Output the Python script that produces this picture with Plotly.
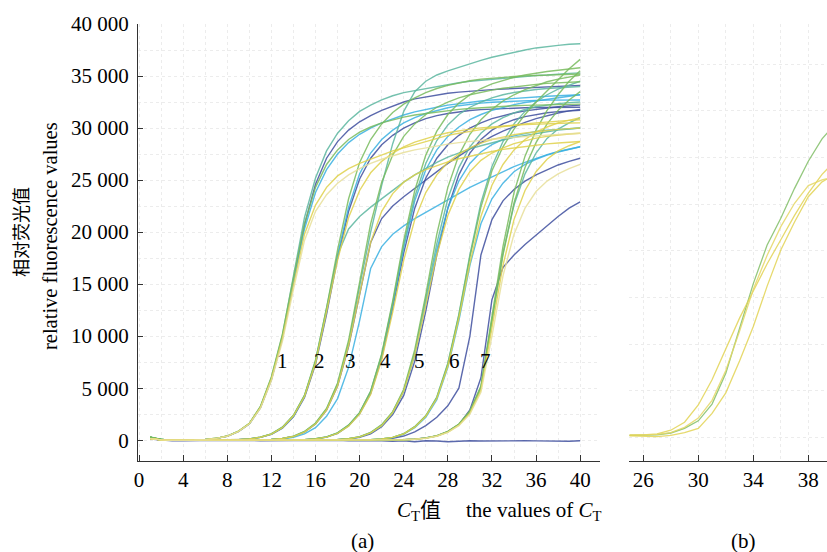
import plotly.graph_objects as go

# ---------------- data ----------------
CYCLES = list(range(1, 41))
B_CYCLES = list(range(25, 41))

XA_TICKS = [0, 4, 8, 12, 16, 20, 24, 28, 32, 36, 40]
XA_TEXT = ["0", "4", "8", "12", "16", "20", "24", "28", "32", "36", "40"]
XB_TICKS = [26, 30, 34, 38]
XB_TEXT = ["26", "30", "34", "38"]
YA_TICKS = [0, 5000, 10000, 15000, 20000, 25000, 30000, 35000, 40000]
YA_TEXT = ["0", "5 000", "10 000", "15 000", "20 000", "25 000", "30 000", "35 000", "40 000"]

GROUP_LABELS = ["1", "2", "3", "4", "5", "6", "7"]
GROUP_LABEL_X = [12.96, 16.4, 19.2, 22.35, 25.4, 28.6, 31.4]
GROUP_LABEL_Y = [7600, 7600, 7600, 7600, 7600, 7600, 7600]

# dilution 1
g1_teal = [320, 80, 0, 0, 30, 80, 180, 400, 850, 1600,
           3200, 6000, 10100, 15800, 21400, 25200, 27800, 29500, 30700, 31600,
           32200, 32700, 33100, 33400, 33600, 33800, 34000, 34200, 34350, 34500,
           34600, 34700, 34800, 34900, 35000, 35050, 35100, 35200, 35250, 35300]
g1_dblue = [200, 40, 0, 0, 20, 70, 170, 380, 830, 1550,
            3100, 5800, 9800, 15300, 20700, 24600, 27100, 28700, 29800, 30600,
            31200, 31700, 32100, 32500, 32800, 33000, 33200, 33350, 33450, 33550,
            33620, 33690, 33750, 33810, 33870, 33920, 33970, 34020, 34060, 34100]
g1_cyan = [250, 60, 0, 0, 25, 75, 175, 390, 840, 1580,
           3150, 5900, 9900, 15200, 20300, 23800, 26000, 27500, 28600, 29400,
           30000, 30500, 30900, 31250, 31550, 31800, 32000, 32200, 32350, 32500,
           32600, 32700, 32780, 32860, 32930, 33000, 33050, 33100, 33150, 33200]
g1_green = [300, 70, 0, 0, 30, 80, 180, 400, 860, 1620,
            3250, 6100, 10200, 15600, 20800, 24300, 26500, 27900, 28900, 29600,
            30100, 30500, 30800, 31050, 31250, 31400, 31550, 31680, 31790, 31880,
            31960, 32030, 32090, 32140, 32180, 32210, 32240, 32260, 32280, 32300]
g1_yellow = [150, 30, 0, 0, 30, 80, 180, 400, 850, 1600,
             3150, 5900, 9800, 14900, 19800, 22600, 24300, 25400, 26100, 26600,
             27000, 27400, 27800, 28100, 28400, 28700, 29000, 29300, 29500, 29700,
             29850, 30000, 30150, 30280, 30400, 30500, 30600, 30680, 30740, 30800]
g1_pale = [150, 30, 0, 0, 25, 75, 170, 380, 820, 1550,
           3050, 5700, 9500, 14500, 19200, 22000, 23600, 24700, 25500, 26100,
           26600, 27000, 27350, 27650, 27900, 28100, 28300, 28450, 28600, 28720,
           28830, 28930, 29020, 29100, 29180, 29250, 29320, 29390, 29450, 29500]

# dilution 2
g2_green = [300, 60, 0, 0, 0, 10, 20, 30, 50, 130,
            290, 600, 1250, 2400, 4300, 7700, 12700, 18300, 23200, 26700,
            28900, 30400, 31500, 32300, 32900, 33400, 33800, 34100, 34350, 34550,
            34700, 34800, 34880, 34950, 35010, 35060, 35100, 35140, 35170, 35200]
g2_cyan = [200, 40, 0, 0, 0, 10, 20, 30, 50, 120,
           280, 580, 1200, 2300, 4200, 7500, 12400, 17800, 22400, 25600,
           27600, 28900, 29800, 30500, 31000, 31400, 31700, 31950, 32150, 32300,
           32400, 32480, 32540, 32590, 32630, 32660, 32680, 32690, 32700, 32700]
g2_teal = [250, 50, 0, 0, 0, 10, 20, 30, 50, 130,
           290, 600, 1250, 2400, 4300, 7600, 12600, 17800, 20300, 21500,
           22400, 23200, 24000, 24800, 25500, 26100, 26700, 27200, 27600, 28000,
           28300, 28600, 28850, 29100, 29300, 29500, 29650, 29800, 29900, 30000]
g2_yellow = [150, 30, 0, 0, 0, 10, 20, 30, 50, 120,
             280, 580, 1200, 2350, 4200, 7400, 12200, 17300, 21400, 24000,
             25700, 26800, 27600, 28200, 28650, 29000, 29300, 29550, 29750, 29900,
             30020, 30120, 30200, 30270, 30330, 30380, 30420, 30450, 30480, 30500]
g2_dblue = [200, 40, 0, 0, 0, 10, 20, 30, 50, 120,
            270, 560, 1150, 2250, 4100, 7300, 12100, 17500, 22000, 25100,
            27100, 28400, 29300, 30000, 30500, 30900, 31200, 31400, 31550, 31680,
            31770, 31830, 31880, 31920, 31950, 31970, 31985, 31995, 32000, 32000]

# dilution 3
g3_teal = [280, 60, 0, 0, 0, 0, 0, 10, 20, 30,
           40, 75, 170, 370, 820, 1600, 3000, 5400, 9300, 14800,
           20000, 24500, 28500, 31600, 33500, 34500, 35100, 35500, 35850, 36200,
           36500, 36800, 37050, 37300, 37500, 37700, 37850, 37950, 38050, 38100]
g3_cyan = [200, 40, 0, 0, 0, 0, 0, 10, 20, 30,
           40, 60, 120, 270, 600, 1200, 2300, 4000, 7000, 11500,
           16500, 18600, 19800, 20600, 21300, 21900, 22500, 23100, 23700, 24300,
           24800, 25300, 25800, 26300, 26700, 27100, 27450, 27750, 28000, 28200]
g3_dblue = [150, 30, 0, 0, 0, 0, 0, 10, 20, 30,
            40, 70, 160, 350, 780, 1550, 2900, 5200, 9000, 14000,
            19000, 21300, 22500, 23400, 24200, 25000, 25800, 26600, 27300, 28000,
            28600, 29200, 29700, 30150, 30550, 30900, 31200, 31450, 31650, 31800]
g3_green = [300, 60, 0, 0, 0, 0, 0, 10, 20, 30,
            40, 80, 175, 380, 840, 1650, 3050, 5500, 9600, 15200,
            20800, 24800, 27400, 29200, 30400, 31300, 32000, 32500, 32900, 33200,
            33450, 33650, 33820, 33970, 34100, 34200, 34290, 34360, 34410, 34450]
g3_yellow = [150, 30, 0, 0, 0, 0, 0, 10, 20, 30,
             40, 70, 160, 350, 780, 1550, 2900, 5200, 9100, 14200,
             19000, 22000, 23700, 24800, 25500, 26000, 26400, 26750, 27050, 27300,
             27550, 27750, 27950, 28100, 28250, 28380, 28480, 28570, 28640, 28700]

# dilution 4
g4_green = [250, 50, 0, 0, 0, 0, 0, 0, 10, 10,
            20, 20, 30, 40, 55, 140, 320, 700, 1450, 2650,
            4700, 8300, 13400, 19200, 24000, 27400, 29700, 31300, 32400, 33200,
            33800, 34250, 34600, 34880, 35100, 35280, 35430, 35560, 35690, 35800]
g4_cyan = [200, 40, 0, 0, 0, 0, 0, 0, 10, 10,
           20, 20, 30, 40, 50, 130, 300, 680, 1400, 2600,
           4600, 8100, 13000, 18500, 23000, 26000, 27900, 29200, 30100, 30800,
           31300, 31700, 32000, 32250, 32450, 32620, 32780, 32920, 33060, 33200]
g4_dblue = [150, 30, 0, 0, 0, 0, 0, 0, 10, 10,
            20, 20, 30, 40, 50, 130, 300, 660, 1380, 2550,
            4500, 7900, 12700, 18000, 22300, 25200, 27100, 28400, 29300, 30000,
            30500, 30900, 31200, 31450, 31650, 31800, 31930, 32040, 32130, 32200]
g4_teal = [220, 50, 0, 0, 0, 0, 0, 0, 10, 10,
           20, 20, 30, 40, 55, 140, 320, 700, 1450, 2650,
           4700, 8200, 13200, 18800, 23400, 26600, 28800, 30300, 31300, 32000,
           32500, 32900, 33200, 33420, 33580, 33700, 33800, 33880, 33950, 34000]
g4_yellow = [150, 30, 0, 0, 0, 0, 0, 0, 10, 10,
             20, 20, 30, 40, 50, 130, 300, 650, 1350, 2500,
             4400, 7700, 12300, 17300, 21200, 23800, 25500, 26700, 27500, 28100,
             28550, 28900, 29150, 29350, 29520, 29660, 29780, 29870, 29940, 30000]

# dilution 5
g5_green = [300, 60, 0, 0, 0, 0, 0, 0, 0, 0,
            0, 0, 10, 10, 20, 20, 30, 60, 150, 340,
            740, 1500, 2750, 4900, 8700, 14000, 19800, 24300, 27400, 29400,
            30800, 31800, 32600, 33200, 33700, 34100, 34450, 34700, 34920, 35100]
g5_teal = [250, 50, 0, 0, 0, 0, 0, 0, 0, 0,
           0, 0, 10, 10, 20, 20, 30, 55, 140, 320,
           720, 1450, 2700, 4800, 8400, 13500, 18900, 23200, 26200, 28200,
           29500, 30400, 31000, 31450, 31800, 32050, 32230, 32350, 32440, 32500]
g5_cyan = [200, 40, 0, 0, 0, 0, 0, 0, 0, 0,
           0, 0, 10, 10, 20, 20, 30, 55, 140, 320,
           700, 1400, 2650, 4700, 8200, 13200, 18300, 22300, 24900, 26600,
           27700, 28400, 28900, 29250, 29500, 29680, 29800, 29890, 29950, 30000]
g5_dblue = [150, 30, 0, 0, 0, 0, 0, 0, 0, 0,
            0, 0, 10, 10, 20, 20, 30, 50, 120, 280,
            620, 1300, 2450, 4300, 7600, 12400, 17800, 22300, 25500, 27600,
            28900, 29800, 30400, 30800, 31100, 31320, 31470, 31580, 31650, 31700]
g5_yellow = [150, 30, 0, 0, 0, 0, 0, 0, 0, 0,
             0, 0, 10, 10, 20, 20, 30, 55, 140, 320,
             700, 1400, 2650, 4700, 8200, 13000, 17800, 21600, 24100, 25800,
             26900, 27600, 28100, 28500, 28800, 29030, 29200, 29330, 29430, 29500]

# dilution 6
g6_green = [250, 50, 0, 0, 0, 0, 0, 0, 0, 0,
            0, 0, 0, 0, 0, 10, 10, 20, 20, 30,
            45, 120, 270, 620, 1300, 2350, 4100, 7300, 12000, 17600,
            22400, 25900, 28200, 29900, 31300, 32500, 33600, 34700, 35700, 36600]
g6_dblue = [150, 30, 0, 0, 0, 0, 0, 0, 0, 0,
            0, 0, 0, 0, 0, 10, 10, 20, 20, 20,
            30, 80, 180, 400, 800, 1400, 2200, 3300, 5000, 10000,
            17800, 21200, 23000, 24100, 24900, 25500, 26000, 26450, 26800, 27100]
g6_cyan = [200, 40, 0, 0, 0, 0, 0, 0, 0, 0,
           0, 0, 0, 0, 0, 10, 10, 20, 20, 30,
           40, 110, 250, 580, 1200, 2200, 3900, 7000, 11500, 16800,
           20800, 23200, 24700, 25800, 26500, 27000, 27400, 27700, 27980, 28200]
g6_yellow = [150, 30, 0, 0, 0, 0, 0, 0, 0, 0,
             0, 0, 0, 0, 0, 10, 10, 20, 20, 30,
             45, 120, 270, 600, 1250, 2300, 4000, 7100, 11700, 17000,
             21500, 24500, 26500, 27900, 28900, 29600, 30100, 30500, 30780, 31000]
g6_teal = [220, 50, 0, 0, 0, 0, 0, 0, 0, 0,
           0, 0, 0, 0, 0, 10, 10, 20, 20, 30,
           45, 120, 270, 620, 1300, 2350, 4150, 7400, 12100, 17800,
           22800, 26300, 28700, 30400, 31600, 32500, 33200, 33750, 34150, 34500]

# dilution 7
g7_green = [300, 60, 0, 0, 0, 0, 0, 0, 0, 0,
            0, 0, 0, 0, 0, 0, 0, 0, 10, 10,
            10, 10, 20, 40, 100, 220, 430, 850, 1550, 2800,
            5200, 11800, 18600, 23800, 27300, 29800, 31700, 33200, 34500, 35500]
g7_green2 = [250, 50, 0, 0, 0, 0, 0, 0, 0, 0,
             0, 0, 0, 0, 0, 0, 0, 0, 10, 10,
             10, 10, 20, 40, 90, 200, 400, 800, 1500, 2700,
             5000, 11200, 17800, 22800, 26200, 28600, 30400, 31700, 32700, 33500]
g7_dblue = [150, 30, 0, 0, 0, 0, 0, 0, 0, 0,
            0, 0, 0, 0, 0, 0, 0, 0, 10, 10,
            10, 10, 20, 40, 100, 220, 420, 820, 1500, 2900,
            6000, 13500, 16600, 17800, 18800, 19700, 20600, 21500, 22300, 22900]
g7_yellow = [150, 30, 0, 0, 0, 0, 0, 0, 0, 0,
             0, 0, 0, 0, 0, 0, 0, 0, 10, 10,
             10, 10, 20, 40, 90, 200, 400, 780, 1450, 2600,
             4800, 10600, 16800, 21200, 24000, 25800, 27000, 27800, 28300, 28700]
g7_teal = [200, 40, 0, 0, 0, 0, 0, 0, 0, 0,
           0, 0, 0, 0, 0, 0, 0, 0, 10, 10,
           10, 10, 20, 40, 100, 210, 420, 830, 1500, 2750,
           5100, 11500, 18000, 22600, 25600, 27600, 29000, 29900, 30500, 31000]
g7_pale = [150, 30, 0, 0, 0, 0, 0, 0, 0, 0,
           0, 0, 0, 0, 0, 0, 0, 0, 10, 10,
           10, 10, 20, 40, 90, 190, 380, 750, 1400, 2500,
           4600, 10000, 15800, 19800, 22300, 23900, 24900, 25600, 26100, 26500]

# no-template control
ntc = [100, 0, -50, -50, -30, 0, -20, -40, 0, -30,
       -50, -20, 0, -30, -40, -20, 0, -20, -50, -30,
       0, -50, -100, -60, -150, -50, -80, -150, -100, -50,
       -80, -60, -70, -80, -60, -70, -80, -150, -100, -50]

# panel (b) curves, cycles 25-40
b_green = [250, 250, 300, 500, 1000, 1800, 3600, 6900, 11600, 16500,
           20600, 23500, 26700, 29600, 32000, 33700]
b_yellow1 = [300, 300, 400, 800, 1650, 3500, 6200, 9500, 12800, 15700,
             18600, 21200, 23800, 26200, 28200, 29700]
b_yellow2 = [250, 300, 350, 550, 1100, 2100, 4000, 7200, 11400, 15900,
             19500, 22600, 25100, 27000, 27600, 28000]
b_yellow3 = [200, 150, 100, 250, 550, 1000, 2600, 4800, 8200, 11900,
             16200, 20100, 23100, 25800, 27400, 28200]

# ---------------- styling ----------------
DB = "#3f4f9f"
CY = "#3ab1e2"
TE = "#5cb7a0"
GR = "#79bc5e"
YE = "#e0d24c"
PY = "#e8e09a"
AXIS = "#333333"
GRID = "#ececec"
FONT = "Liberation Serif, Times New Roman, Noto Sans CJK SC, serif"

panel_a = [
    (ntc, DB),
    (g1_dblue, DB), (g2_dblue, DB), (g3_dblue, DB), (g4_dblue, DB),
    (g5_dblue, DB), (g6_dblue, DB), (g7_dblue, DB),
    (g1_cyan, CY), (g2_cyan, CY), (g3_cyan, CY), (g4_cyan, CY),
    (g5_cyan, CY), (g6_cyan, CY),
    (g1_teal, TE), (g2_teal, TE), (g3_teal, TE), (g4_teal, TE),
    (g5_teal, TE), (g6_teal, TE), (g7_teal, TE),
    (g1_green, GR), (g2_green, GR), (g3_green, GR), (g4_green, GR),
    (g5_green, GR), (g6_green, GR), (g7_green, GR), (g7_green2, GR),
    (g1_yellow, YE), (g2_yellow, YE), (g3_yellow, YE), (g4_yellow, YE),
    (g5_yellow, YE), (g6_yellow, YE), (g7_yellow, YE),
    (g1_pale, PY), (g7_pale, PY),
]
panel_b = [
    (b_green, "#82bf68"),
    (b_yellow1, "#e3d455"),
    (b_yellow2, "#e6d866"),
    (b_yellow3, "#e3d455"),
]

fig = go.Figure()
for vals, color in panel_a:
    fig.add_trace(go.Scatter(
        x=CYCLES, y=vals, mode="lines", xaxis="x", yaxis="y",
        line=dict(color=color, width=1.4), opacity=0.85,
        showlegend=False, hoverinfo="skip"))
for vals, color in panel_b:
    fig.add_trace(go.Scatter(
        x=B_CYCLES, y=vals, mode="lines", xaxis="x2", yaxis="y2",
        line=dict(color=color, width=1.3), opacity=0.85,
        showlegend=False, hoverinfo="skip"))

W, H = 827, 552


def px(x):
    return x / W


def py(y):
    return (H - y) / H


tickfont = dict(family=FONT, size=21, color="black")
common_axis = dict(
    showline=True, linecolor=AXIS, linewidth=1.2, ticks="inside",
    tickcolor=AXIS, tickwidth=1.2, zeroline=False, tickfont=tickfont,
    showgrid=True, gridcolor=GRID, griddash="dot", gridwidth=1,
    automargin=False,
)

fig.update_layout(
    template="none",
    width=W, height=H, margin=dict(l=0, r=0, t=0, b=0, autoexpand=False),
    paper_bgcolor="white", plot_bgcolor="white",
    xaxis=dict(common_axis, domain=[px(138), px(600)], range=[-0.1, 41.8],
               tickmode="array", tickvals=XA_TICKS, ticktext=XA_TEXT,
               ticklen=6, anchor="y",
               minor=dict(tickmode="linear", tick0=0, dtick=2, showgrid=True,
                          gridcolor=GRID, griddash="dot", ticks="")),
    yaxis=dict(common_axis, domain=[py(461), py(24)], range=[-2000, 40000],
               tickmode="array", tickvals=YA_TICKS, ticktext=YA_TEXT,
               ticklen=5, anchor="x", ticklabelstandoff=4,
               minor=dict(tickmode="linear", tick0=0, dtick=2500, showgrid=True,
                          gridcolor=GRID, griddash="dot", ticks="")),
    xaxis2=dict(common_axis, domain=[px(629), 1.0], range=[24.96, 39.36],
                tickmode="array", tickvals=XB_TICKS, ticktext=XB_TEXT,
                ticklen=6, anchor="y2",
                minor=dict(tickmode="linear", tick0=0, dtick=2, showgrid=True,
                           gridcolor=GRID, griddash="dot", ticks="")),
    yaxis2=dict(domain=[py(461), py(24)], range=[-2500, 44300], anchor="x2",
                showline=False, ticks="", showticklabels=False, zeroline=False,
                automargin=False, showgrid=True, gridcolor=GRID, griddash="dot",
                tickmode="linear", tick0=0, dtick=5000),
)

label_font = dict(family=FONT, size=21, color="black")
annotations = []
for lab, lx, ly in zip(GROUP_LABELS, GROUP_LABEL_X, GROUP_LABEL_Y):
    annotations.append(dict(x=lx, y=ly, xref="x", yref="y", text=lab,
                            xanchor="center", yanchor="middle",
                            showarrow=False, font=label_font))

annotations += [
    dict(x=px(22), y=py(232), xref="paper", yref="paper", text="相对荧光值",
         textangle=-90, xanchor="center", yanchor="middle",
         showarrow=False, font=dict(family=FONT, size=18, color="black")),
    dict(x=px(50), y=py(236), xref="paper", yref="paper",
         text="relative fluorescence values", textangle=-90,
         xanchor="center", yanchor="middle", showarrow=False,
         font=dict(family=FONT, size=20.5, color="black")),
    dict(x=px(395), y=py(511), xref="paper", yref="paper", xanchor="left",
         yanchor="middle", text="<i>C</i><sub>T</sub>值", showarrow=False,
         font=label_font),
    dict(x=px(604), y=py(511), xref="paper", yref="paper", xanchor="right",
         yanchor="middle", text="the values of <i>C</i><sub>T</sub>",
         showarrow=False, font=label_font),
    dict(x=px(362), y=py(541), xref="paper", yref="paper", text="(a)",
         xanchor="center", yanchor="middle", showarrow=False, font=label_font),
    dict(x=px(743), y=py(541), xref="paper", yref="paper", text="(b)",
         xanchor="center", yanchor="middle", showarrow=False, font=label_font),
]
fig.update_layout(annotations=annotations)

fig.write_html("out.html")
